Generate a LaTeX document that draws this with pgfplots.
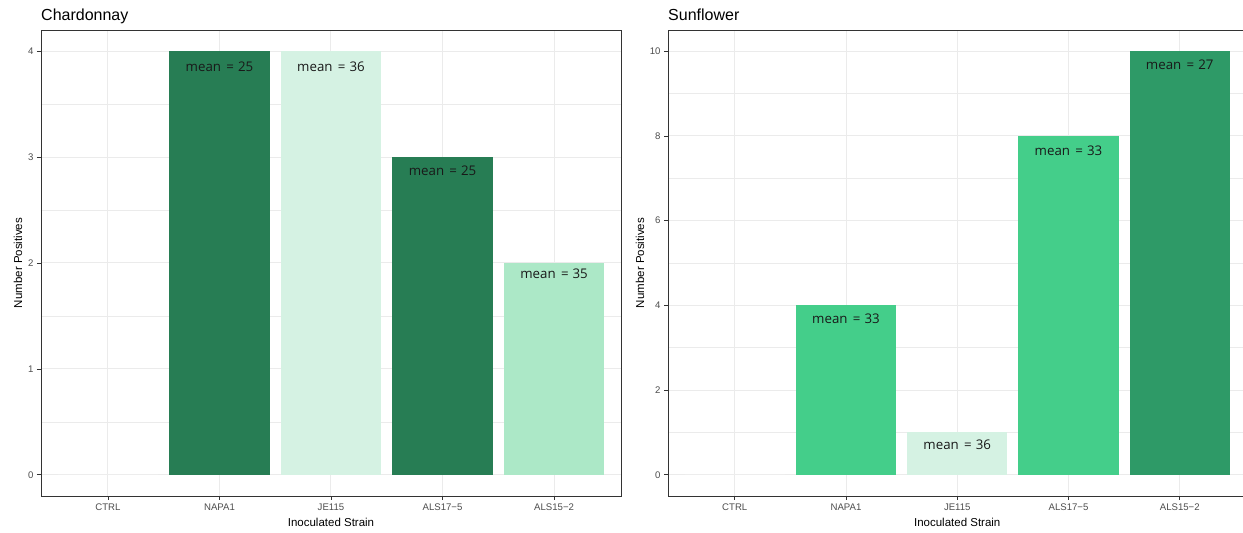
\documentclass[border=0pt]{standalone}
\usepackage{fontspec}
\setmainfont{Liberation Sans}
\newfontfamily\annfont{Open Sans}
\usepackage{pgfplots}
\pgfplotsset{compat=1.18}
\definecolor{dkA}{HTML}{277D54}
\definecolor{ltA}{HTML}{D5F2E3}
\definecolor{mdA}{HTML}{ACE8C7}
\definecolor{gB}{HTML}{44CE8A}
\definecolor{dkB}{HTML}{2E9A67}
\definecolor{gridc}{HTML}{EBEBEB}
\definecolor{axc}{HTML}{333333}
\definecolor{tickc}{HTML}{4D4D4D}
\pgfplotsset{
  panel/.style={
    scale only axis, height=466pt, anchor=south west,
    xmin=0.4, xmax=5.6, xtick={1,2,3,4,5},
    xticklabels={CTRL,NAPA1,JE115,ALS17−5,ALS15−2},
    xmajorgrids, ymajorgrids, yminorgrids,
    major grid style={gridc, line width=1pt},
    minor grid style={gridc, line width=0.55pt},
    tick align=outside, tick pos=left,
    major tick length=4pt, minor tick length=0pt,
    tick style={axc, line width=0.8pt},
    axis line style={axc, line width=0.8pt},
    ticklabel style={font=\fontsize{9.6}{10}\selectfont, text=tickc},
    /pgf/number format/assume math mode=true,
    clip=false,
  },
  mybar/.style={ybar, bar width=0.9, bar shift=0pt, draw=none, fill=#1},
}
\tikzset{ann/.style={font=\annfont\fontsize{13.3}{14}\selectfont, text=black!90}}
\newcommand{\meantext}[1]{mean\hspace{0.4em}=\hspace{0.3em}#1}
\begin{document}
\begin{tikzpicture}
\fill[white] (0,0) rectangle (1243pt,533pt);
\useasboundingbox (0,0) rectangle (1243pt,533pt);
% Chardonnay
\begin{axis}[panel, at={(41pt,37pt)}, width=580pt,
  ymin=-0.2, ymax=4.2, ytick={0,1,2,3,4}, minor y tick num=1]
\addplot[mybar=white] coordinates {(1,0)};
\addplot[mybar=dkA] coordinates {(2,4)};
\addplot[mybar=ltA] coordinates {(3,4)};
\addplot[mybar=dkA] coordinates {(4,3)};
\addplot[mybar=mdA] coordinates {(5,2)};
\node[ann] at (axis cs:2,3.85) {\meantext{25}};
\node[ann] at (axis cs:3,3.85) {\meantext{36}};
\node[ann] at (axis cs:4,2.87) {\meantext{25}};
\node[ann] at (axis cs:5,1.90) {\meantext{35}};
\node[anchor=base west, inner xsep=0pt, font=\fontsize{16}{18}\selectfont] at (axis description cs:0,1) [yshift=9.3pt] {Chardonnay};
\node[font=\fontsize{11.5}{13}\selectfont] at (axis description cs:0.5,0) [yshift=-26pt] {Inoculated Strain};
\node[font=\fontsize{11.5}{13}\selectfont, rotate=90] at (axis description cs:0,0.5) [yshift=23pt] {Number Positives};
\end{axis}
% Sunflower
\begin{axis}[panel, at={(668pt,37pt)}, width=578.5pt,
  ymin=-0.5, ymax=10.5, ytick={0,2,4,6,8,10}, minor y tick num=1]
\addplot[mybar=white] coordinates {(1,0)};
\addplot[mybar=gB] coordinates {(2,4)};
\addplot[mybar=ltA] coordinates {(3,1)};
\addplot[mybar=gB] coordinates {(4,8)};
\addplot[mybar=dkB] coordinates {(5,10)};
\node[ann] at (axis cs:2,3.69) {\meantext{33}};
\node[ann] at (axis cs:3,0.71) {\meantext{36}};
\node[ann] at (axis cs:4,7.65) {\meantext{33}};
\node[ann] at (axis cs:5,9.67) {\meantext{27}};
\node[anchor=base west, inner xsep=0pt, font=\fontsize{16}{18}\selectfont] at (axis description cs:0,1) [yshift=9.3pt] {Sunflower};
\node[font=\fontsize{11.5}{13}\selectfont] at (axis description cs:0.5,0) [yshift=-26pt] {Inoculated Strain};
\node[font=\fontsize{11.5}{13}\selectfont, rotate=90] at (axis description cs:0,0.5) [yshift=28pt] {Number Positives};
\end{axis}
\end{tikzpicture}
\end{document}
